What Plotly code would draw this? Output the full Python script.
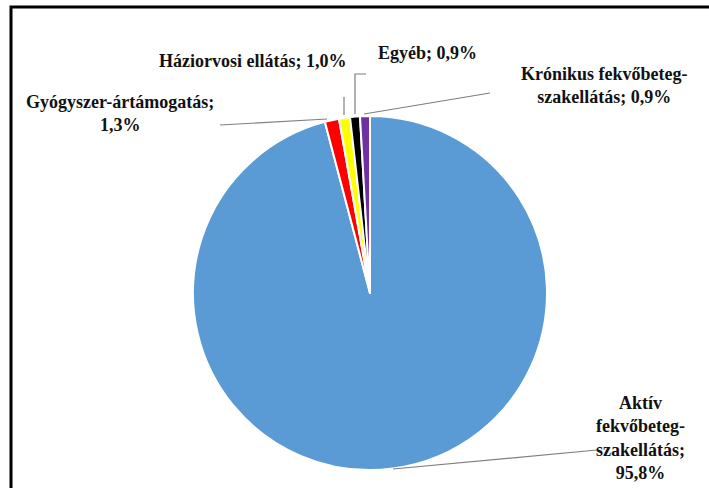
import plotly.graph_objects as go

W, H = 709, 488

categories = ["Aktív fekvőbeteg-szakellátás", "Gyógyszer-ártámogatás", "Háziorvosi ellátás",
              "Egyéb", "Krónikus fekvőbeteg-szakellátás"]
values = [95.8, 1.3, 1.0, 0.9, 0.9]
colors = ["#5B9BD5", "#FF0000", "#FFFF00", "#000000", "#7030A0"]
label_texts = ["Aktív<br>fekvőbeteg-<br>szakellátás;<br>95,8%",
               "Gyógyszer-ártámogatás;<br>1,3%",
               "Háziorvosi ellátás; 1,0%",
               "Egyéb; 0,9%",
               "Krónikus fekvőbeteg-<br>szakellátás; 0,9%"]

def px(x):
    return x / W

def py(y):
    return 1 - y / H

fig = go.Figure(go.Pie(
    labels=categories, values=values, sort=False, direction="clockwise", rotation=0,
    marker=dict(colors=colors, line=dict(color="white", width=2)),
    textinfo="none", hoverinfo="label+percent", showlegend=False,
    domain=dict(x=[px(193), px(547)], y=[py(470), py(116)]),
))

# label positions (pixel centres) and leader lines
label_pos = [(640, 438), (120, 113), (252, 61), (428, 53), (604, 85)]
leaders = [
    [(393, 469), (597, 450)],
    [(220, 125), (327, 119)],
    [(344, 97), (344, 115)],
    [(366, 74), (355, 74), (355, 114)],
    [(490, 93), (364, 114)],
]

font = dict(family="Liberation Serif", size=18, color="#111111")
for txt, (x, y) in zip(label_texts, label_pos):
    fig.add_annotation(x=px(x), y=py(y), xref="paper", yref="paper", text="<b>" + txt + "</b>",
                       showarrow=False, font=font, align="center", xanchor="center", yanchor="middle")

shapes = []
for pts in leaders:
    path = "M " + " L ".join(f"{px(a)},{py(b)}" for a, b in pts)
    shapes.append(dict(type="path", path=path, xref="paper", yref="paper",
                       line=dict(color="#7f7f7f", width=1.2)))
# chart frame
shapes.append(dict(type="path", path=f"M {px(11)},{py(490)} L {px(11)},{py(7)} L {px(712)},{py(7)}",
                   xref="paper", yref="paper", line=dict(color="black", width=3)))

fig.update_layout(width=W, height=H, margin=dict(l=0, r=0, t=0, b=0),
                  paper_bgcolor="white", plot_bgcolor="white", shapes=shapes)

fig.write_html("out.html")
